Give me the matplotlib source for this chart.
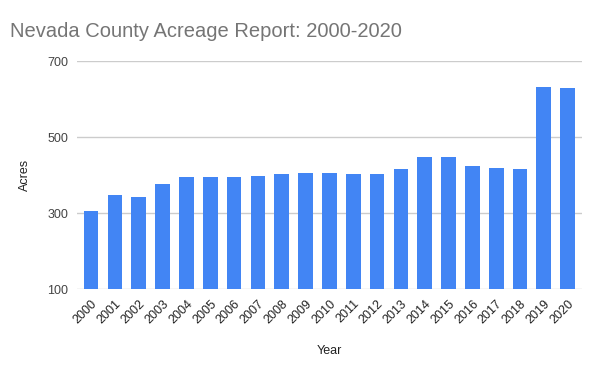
import matplotlib
matplotlib.use("Agg")
import matplotlib.pyplot as plt

years = [str(y) for y in range(2000, 2021)]
acres = [306, 348, 343, 377, 395, 395, 395, 398, 403, 406, 406,
         403, 403, 416, 448, 448, 424, 419, 416, 632, 630]
yticks = [100, 300, 500, 700]

plt.rcParams["font.family"] = ["Liberation Sans", "DejaVu Sans"]

fig = plt.figure(figsize=(6, 3.71), dpi=100)
ax = fig.add_axes([0.128, 0.22, 0.842, 0.615])

ax.bar(range(len(years)), acres, width=0.62, color="#4285f4", zorder=2)
ax.set_ylim(100, 700)
ax.set_xlim(-0.6, len(years) - 0.4)
ax.set_yticks(yticks)
ax.set_yticklabels([str(t) for t in yticks], fontsize=9, color="#444444")
ax.set_xticks(range(len(years)))
ax.set_xticklabels(years, rotation=45, ha="right", rotation_mode="anchor",
                   fontsize=9, color="#222222")
ax.tick_params(length=0, pad=6)
ax.grid(axis="y", color="#cccccc", linewidth=1, zorder=0)
for s in ax.spines.values():
    s.set_visible(False)

ax.set_ylabel("Acres", fontsize=9, color="#222222", labelpad=12)
ax.set_xlabel("Year", fontsize=9, color="#222222", labelpad=14)
fig.text(0.017, 0.915, "Nevada County Acreage Report: 2000-2020",
         fontsize=14.5, color="#757575", ha="left", va="center")

plt.savefig("out.png", dpi=100)
